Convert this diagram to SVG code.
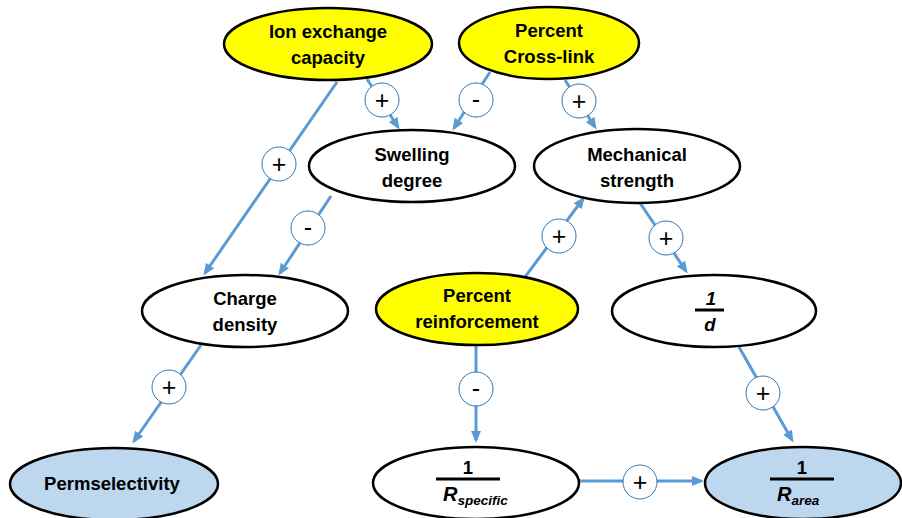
<svg xmlns="http://www.w3.org/2000/svg" width="902" height="518" viewBox="0 0 902 518">
<style>
.n{stroke:#000;stroke-width:2.5}
.w{fill:#fff}.y{fill:#ffff00}.b{fill:#bdd7ee}
.t{font-family:"Liberation Sans",Arial,sans-serif;font-weight:bold;font-size:18.5px;fill:#000;text-anchor:middle}
.i{font-style:italic}
.c{stroke:#5b9bd5;stroke-width:3;fill:none;marker-end:url(#a)}
.l{fill:#fff;stroke:#2e75b6;stroke-width:1}
.s{font-family:"Liberation Sans",Arial,sans-serif;font-size:25px;fill:#000;text-anchor:middle}
.bar{stroke:#000;stroke-width:3}
</style>
<defs>
<marker id="a" markerUnits="userSpaceOnUse" markerWidth="12" markerHeight="10" refX="9" refY="5" orient="auto">
<path d="M0,0 L12,5 L0,10 z" fill="#5b9bd5"/>
</marker>
</defs>
<g id="connectors">
<line class="c" x1="337" y1="82" x2="205" y2="273"/>
<line class="c" x1="367" y1="79" x2="398" y2="127"/>
<line class="c" x1="490" y1="72" x2="454" y2="128"/>
<line class="c" x1="565" y1="80" x2="595" y2="127"/>
<line class="c" x1="331" y1="196" x2="280" y2="273"/>
<line class="c" x1="525" y1="277" x2="583" y2="199"/>
<line class="c" x1="640" y1="203" x2="686" y2="271"/>
<line class="c" x1="201" y1="345" x2="134" y2="441"/>
<line class="c" x1="476" y1="346" x2="476" y2="440"/>
<line class="c" x1="739" y1="347" x2="792" y2="440"/>
<line class="c" x1="578" y1="481" x2="701" y2="481"/>
<g id="labels">
<circle class="l" cx="279" cy="164" r="17"/><text class="s" x="279" y="173">+</text>
<circle class="l" cx="382" cy="100" r="17"/><text class="s" x="382" y="109">+</text>
<circle class="l" cx="476" cy="100" r="17"/><text class="s" x="476" y="108">-</text>
<circle class="l" cx="579" cy="101" r="17"/><text class="s" x="579" y="110">+</text>
<circle class="l" cx="308" cy="228" r="17"/><text class="s" x="308" y="236">-</text>
<circle class="l" cx="559" cy="236" r="17"/><text class="s" x="559" y="245">+</text>
<circle class="l" cx="666" cy="238" r="17"/><text class="s" x="666" y="247">+</text>
<circle class="l" cx="169" cy="387" r="17"/><text class="s" x="169" y="396">+</text>
<circle class="l" cx="476" cy="389" r="17"/><text class="s" x="476" y="397">-</text>
<circle class="l" cx="763" cy="393" r="17"/><text class="s" x="763" y="402">+</text>
<circle class="l" cx="640" cy="482" r="17"/><text class="s" x="640" y="491">+</text>
</g>
</g>
<g id="ion"><ellipse class="n y" cx="328" cy="44" rx="104" ry="36"/><text class="t" x="328" y="38">Ion exchange</text><text class="t" x="328" y="64">capacity</text></g>
<g id="crosslink"><ellipse class="n y" cx="549" cy="43" rx="90" ry="36"/><text class="t" x="549" y="37">Percent</text><text class="t" x="549" y="63">Cross-link</text></g>
<g id="swelling"><ellipse class="n w" cx="412" cy="166" rx="103" ry="36"/><text class="t" x="412" y="161">Swelling</text><text class="t" x="412" y="187">degree</text></g>
<g id="mechanical"><ellipse class="n w" cx="637" cy="166" rx="103" ry="37"/><text class="t" x="637" y="161">Mechanical</text><text class="t" x="637" y="187">strength</text></g>
<g id="charge"><ellipse class="n w" cx="245" cy="311" rx="103" ry="36"/><text class="t" x="245" y="305">Charge</text><text class="t" x="245" y="331">density</text></g>
<g id="reinforcement"><ellipse class="n y" cx="477" cy="309" rx="101" ry="36"/><text class="t" x="477" y="302">Percent</text><text class="t" x="477" y="328">reinforcement</text></g>
<g id="inv_d"><ellipse class="n w" cx="714" cy="311" rx="102" ry="36"/><text class="t i" x="711" y="305">1</text><line class="bar" x1="695" y1="310" x2="724" y2="310"/><text class="t i" x="710" y="331">d</text></g>
<g id="permselectivity"><ellipse class="n b" cx="114" cy="484" rx="104" ry="36"/><text class="t" x="112" y="490">Permselectivity</text></g>
<g id="r_specific"><ellipse class="n w" cx="476" cy="483" rx="103" ry="36"/><text class="t" x="468" y="474">1</text><line class="bar" x1="436" y1="479" x2="500" y2="479"/><text class="t i" x="443" y="501" style="text-anchor:start;font-size:20px">R<tspan font-size="13.5" dy="4">specific</tspan></text></g>
<g id="r_area"><ellipse class="n b" cx="803" cy="483" rx="98" ry="36"/><text class="t" x="802" y="474">1</text><line class="bar" x1="770" y1="479" x2="834" y2="479"/><text class="t i" x="777" y="501" style="text-anchor:start;font-size:20px">R<tspan font-size="13.5" dy="4">area</tspan></text></g>
</svg>
